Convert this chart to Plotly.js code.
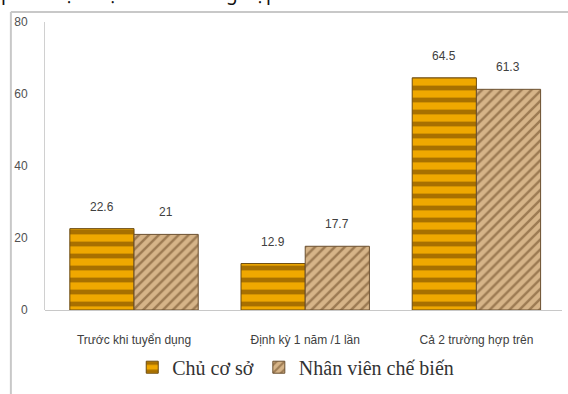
<!DOCTYPE html>
<html>
<head>
<meta charset="utf-8">
<script src="https://cdn.plot.ly/plotly-3.0.1.min.js"></script>
<style>html,body{margin:0;padding:0;background:#fff;overflow:hidden}#chart{width:568px;height:394px}</style>
</head>
<body>
<div id="chart"></div>
<script>
var categories = ["Trước khi tuyển dụng", "Định kỳ 1 năm /1 lần", "Cả 2 trường hợp trên"];
var seriesNames = ["Chủ cơ sở", "Nhân viên chế biến"];
var chuCoSo = [22.6, 12.9, 64.5];
var nhanVien = [21, 17.7, 61.3];
var yTicks = [0, 20, 40, 60, 80];
var topText = "phải thực hiện cả 2 trường hợp trên.";

var traces = [
  {
    type: "bar", name: seriesNames[0], x: categories, y: chuCoSo,
    marker: {
      color: "#e8a200",
      line: {color: "#6b4a10", width: 1},
      pattern: {shape: "-", fgcolor: "#a87000", bgcolor: "#f0a800", size: 12, solidity: 0.4}
    },
    hoverinfo: "none"
  },
  {
    type: "bar", name: seriesNames[1], x: categories, y: nhanVien,
    marker: {
      color: "#c9a375",
      line: {color: "#6b5030", width: 1},
      pattern: {shape: "/", fgcolor: "#9c7a52", bgcolor: "#d6b488", size: 7, solidity: 0.35}
    },
    hoverinfo: "none"
  }
];

var labelFont = {family: "Liberation Sans Narrow, Liberation Sans, sans-serif", size: 12, color: "#404040"};
var annotations = [];
chuCoSo.forEach(function (v, i) {
  annotations.push({x: categories[i], y: v, xref: "x", yref: "y", text: String(v), showarrow: false,
    xshift: -32, yshift: 22, font: labelFont});
});
nhanVien.forEach(function (v, i) {
  annotations.push({x: categories[i], y: v, xref: "x", yref: "y", text: String(v), showarrow: false,
    xshift: 32, yshift: 22, font: labelFont});
});
annotations.push({x: 0, y: 1, xref: "paper", yref: "paper", xanchor: "left", yanchor: "bottom",
  xshift: -46, yshift: 14, text: topText, showarrow: false,
  font: {family: "Noto Sans, sans-serif", size: 19, color: "#111"}});

var layout = {
  width: 568, height: 394,
  margin: {l: 45, r: 6, t: 22, b: 84},
  paper_bgcolor: "#fff", plot_bgcolor: "#fff",
  barmode: "group", bargap: 0.25, bargroupgap: 0,
  showlegend: true,
  legend: {orientation: "h", xref: "paper", x: 0.485, xanchor: "center", yref: "container", y: 0.068, yanchor: "middle",
    bgcolor: "rgba(0,0,0,0)",
    font: {family: "Liberation Serif, serif", size: 20, color: "#333"}, itemwidth: 30, traceorder: "normal"},
  xaxis: {range: [-0.52, 2.5], showgrid: false, zeroline: false, showline: false, ticks: "",
    ticklabelstandoff: 21,
    tickfont: {family: "Liberation Sans Narrow, Liberation Sans, sans-serif", size: 12, color: "#404040"}},
  yaxis: {range: [0, 80], tickvals: yTicks, showgrid: false, zeroline: true, zerolinecolor: "#c8c8c8", zerolinewidth: 1,
    showline: true, linecolor: "#d0d0d0", linewidth: 1, ticks: "", ticklabelstandoff: 14,
    tickfont: {family: "Liberation Sans Narrow, Liberation Sans, sans-serif", size: 12, color: "#505050"}},
  annotations: annotations,
  shapes: [
    {type: "line", xref: "paper", yref: "paper", x0: -0.066, x1: 1.02, y0: 1.035, y1: 1.035, line: {color: "#c8c8c8", width: 2}},
    {type: "line", xref: "paper", yref: "paper", x0: -0.066, x1: -0.066, y0: 1.035, y1: -0.3, line: {color: "#c8c8c8", width: 2}}
  ]
};

Plotly.newPlot("chart", traces, layout, {staticPlot: true, displayModeBar: false});
</script>
</body>
</html>
